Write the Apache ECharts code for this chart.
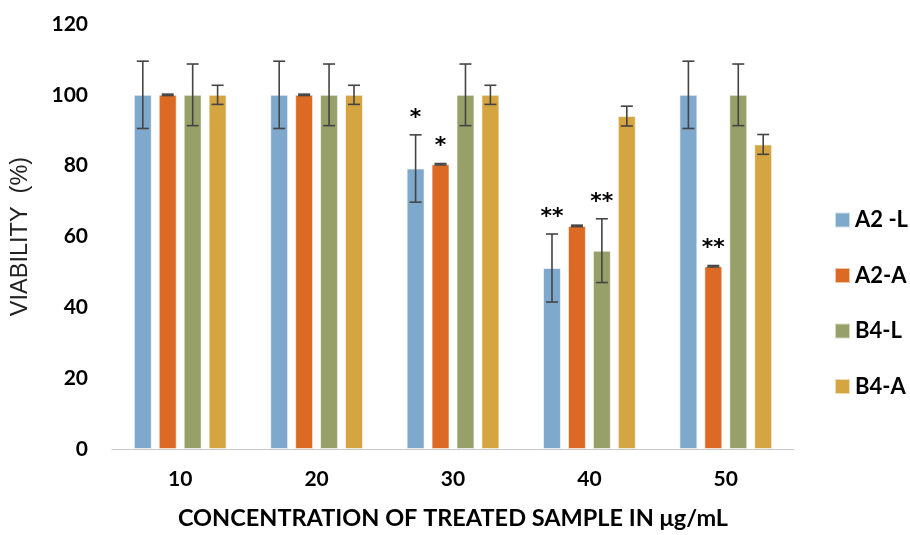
<!DOCTYPE html>
<html>
<head>
<meta charset="utf-8">
<script src="https://cdn.jsdelivr.net/npm/echarts@6/dist/echarts.min.js"></script>
<style>html,body{margin:0;padding:0;background:#fff;}#c{width:910px;height:535px;}</style>
</head>
<body>
<div id="c"></div>
<script>
var categories = ['10', '20', '30', '40', '50'];
var seriesNames = ['A2 -L', 'A2-A', 'B4-L', 'B4-A'];
var a2L = [100, 100, 79.2, 51.1, 100];
var a2A = [100, 100, 80.4, 63.0, 51.6];
var b4L = [100, 100, 100, 56.0, 100];
var b4A = [100, 100, 100, 94.0, 86.0];
var a2LErr = [9.5, 9.5, 9.5, 9.6, 9.5];
var a2AErr = [0.2, 0.2, 0.2, 0.2, 0.2];
var b4LErr = [8.7, 8.7, 8.7, 9.0, 8.7];
var b4AErr = [2.7, 2.7, 2.7, 2.8, 2.8];
var a2LSig = ['', '', '*', '**', ''];
var a2ASig = ['', '', '*', '', '**'];
var b4LSig = ['', '', '', '**', ''];
var b4ASig = ['', '', '', '', ''];
var yTicks = [0, 20, 40, 60, 80, 100, 120];

var colors = ['#7FA8CD', '#DC6A25', '#97A068', '#D4A540'];
var values = [a2L, a2A, b4L, b4A];
var errs = [a2LErr, a2AErr, b4LErr, b4AErr];
var sigs = [a2LSig, a2ASig, b4LSig, b4ASig];
var CAT_GAP = 0.32, BAR_GAP = 0.39, N = 4;
var FONT = 'Lato, "Open Sans", sans-serif';

function barOffset(api, idx) {
  var band = api.size([1, 0])[0];
  var rem = band * (1 - CAT_GAP);
  var bw = rem / (N + (N - 1) * BAR_GAP);
  var total = bw * N + bw * BAR_GAP * (N - 1);
  return { off: -total / 2 + idx * bw * (1 + BAR_GAP) + bw / 2, bw: bw };
}

var series = [];
values.forEach(function (vals, si) {
  series.push({
    name: seriesNames[si], type: 'bar', data: vals,
    barCategoryGap: (CAT_GAP * 100) + '%', barGap: (BAR_GAP * 100) + '%',
    itemStyle: { color: colors[si], borderColor: 'rgba(255,255,255,0.6)', borderWidth: 1 },
    z: 2
  });
});
values.forEach(function (vals, si) {
  var data = vals.map(function (v, i) { return [i, v, errs[si][i], sigs[si][i]]; });
  series.push({
    type: 'custom', name: seriesNames[si] + '_err', data: data, z: 5,
    silent: true,
    renderItem: function (params, api) {
      var i = api.value(0), v = api.value(1), e = api.value(2);
      var sig = data[params.dataIndex][3];
      var o = barOffset(api, si);
      var top = api.coord([i, v + e]);
      var bot = api.coord([i, v - e]);
      var x = top[0] + o.off;
      var cap = 6;
      var st = { stroke: '#444', lineWidth: 1.6 };
      var children = [
        { type: 'line', shape: { x1: x, y1: top[1], x2: x, y2: bot[1] }, style: st },
        { type: 'line', shape: { x1: x - cap, y1: top[1], x2: x + cap, y2: top[1] }, style: st },
        { type: 'line', shape: { x1: x - cap, y1: bot[1], x2: x + cap, y2: bot[1] }, style: st }
      ];
      if (sig) {
        children.push({
          type: 'text',
          style: { text: sig, x: x, y: top[1] - 17, align: 'center', verticalAlign: 'middle',
                   fill: '#000', font: '900 22px "DejaVu Sans", sans-serif' }
        });
      }
      return { type: 'group', children: children };
    }
  });
});

var chart = echarts.init(document.getElementById('c'));
chart.setOption({
  animation: false,
  color: colors,
  grid: { left: 112, right: 116, top: 24, bottom: 86 },
  legend: {
    data: seriesNames, orient: 'vertical', left: 829, top: 204,
    itemWidth: 15, itemHeight: 15, itemGap: 33.5, icon: 'rect',
    textStyle: { color: '#000', fontSize: 22, lineHeight: 15, fontWeight: 'bold', fontFamily: FONT }
  },
  xAxis: {
    type: 'category', data: categories,
    axisLine: { lineStyle: { color: '#c8c8c8', width: 1 } },
    axisTick: { show: false },
    axisLabel: { color: '#000', fontSize: 21, fontWeight: 'bold', margin: 20, fontFamily: FONT },
    name: 'CONCENTRATION OF TREATED SAMPLE IN μg/mL', nameLocation: 'middle', nameGap: 57,
    nameTextStyle: { color: '#000', fontSize: 23.5, fontWeight: 'bold', fontFamily: FONT }
  },
  yAxis: {
    type: 'value', min: yTicks[0], max: yTicks[yTicks.length - 1], interval: 20,
    splitLine: { show: false }, axisLine: { show: false }, axisTick: { show: false },
    axisLabel: { color: '#000', fontSize: 21, fontWeight: 'bold', margin: 24, fontFamily: FONT },
    name: 'VIABILITY  (%)', nameLocation: 'middle', nameGap: 79, nameRotate: 90,
    nameTextStyle: { color: '#222', fontSize: 23.5, fontFamily: '"Liberation Sans", Arial, sans-serif' }
  },
  series: series
});
</script>
</body>
</html>
